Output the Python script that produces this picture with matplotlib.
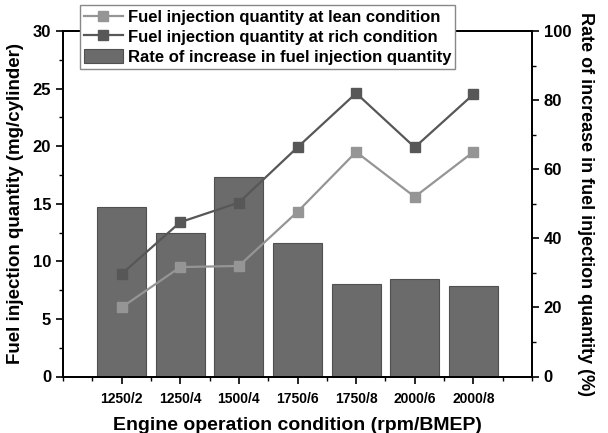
import matplotlib.pyplot as plt
import numpy as np
from matplotlib.ticker import MultipleLocator

conditions = ['1250/2', '1250/4', '1500/4', '1750/6', '1750/8', '2000/6', '2000/8']
lean = [6.0, 9.5, 9.6, 14.3, 19.5, 15.6, 19.5]
rich = [8.9, 13.4, 15.1, 19.9, 24.6, 19.9, 24.5]
rate = [49.0, 41.6, 57.6, 38.6, 26.9, 28.3, 26.1]

plt.rcParams['font.family'] = ['Liberation Sans', 'DejaVu Sans']
plt.rcParams['font.weight'] = 'bold'

fig = plt.figure(figsize=(6.08, 4.33), dpi=100)
ax = fig.add_axes([63 / 608, 1 - 376.5 / 433, 469 / 608, 345.5 / 433])
ax2 = ax.twinx()
ax.set_zorder(ax2.get_zorder() + 1)
ax.patch.set_visible(False)

x = np.arange(len(conditions))
bars = ax2.bar(x, rate, width=0.84, color='#6b6b6b', edgecolor='#505050', linewidth=0.8,
               label='Rate of increase in fuel injection quantity')
l1, = ax.plot(x, lean, '-s', color='#959595', markersize=7, linewidth=1.6,
              label='Fuel injection quantity at lean condition')
l2, = ax.plot(x, rich, '-s', color='#575757', markersize=7, linewidth=1.6,
              label='Fuel injection quantity at rich condition')

ax.set_xlim(-1, 7)
ax.set_ylim(0, 30)
ax2.set_ylim(0, 100)
ax.set_xticks(x)
ax.set_xticklabels(conditions, fontsize=10)
ax.xaxis.set_minor_locator(MultipleLocator(0.5))
ax.yaxis.set_major_locator(MultipleLocator(5))
ax.yaxis.set_minor_locator(MultipleLocator(2.5))
ax2.yaxis.set_major_locator(MultipleLocator(20))
ax2.yaxis.set_minor_locator(MultipleLocator(10))
ax.tick_params(axis='y', labelsize=12, length=5, width=1.2)
ax.tick_params(axis='x', length=5, width=1.2, pad=6)
ax.tick_params(which='minor', length=3, width=1)
ax2.tick_params(axis='y', labelsize=12, length=5, width=1.2)
ax2.tick_params(which='minor', length=3, width=1)
for a in (ax, ax2):
    for s in a.spines.values():
        s.set_linewidth(1.3)

ax.set_xlabel('Engine operation condition (rpm/BMEP)', fontsize=14, fontweight='bold',
              labelpad=8)
ax.set_ylabel('Fuel injection quantity (mg/cylinder)', fontsize=13.5, fontweight='bold',
              labelpad=6)
ax2.set_ylabel('Rate of increase in fuel injection quantity (%)', fontsize=13,
               fontweight='bold', rotation=270, labelpad=16)

leg = fig.legend(handles=[l1, l2, bars], loc='upper left',
                 bbox_to_anchor=(80 / 608, 1 - 5 / 433), fontsize=12,
                 frameon=True, fancybox=False, edgecolor='#888888',
                 borderpad=0.25, labelspacing=0.25, handlelength=2.3,
                 handleheight=0.9, handletextpad=0.3, borderaxespad=0,
                 framealpha=1)
leg.get_frame().set_linewidth(1.0)

fig.savefig('out.png', dpi=100)
